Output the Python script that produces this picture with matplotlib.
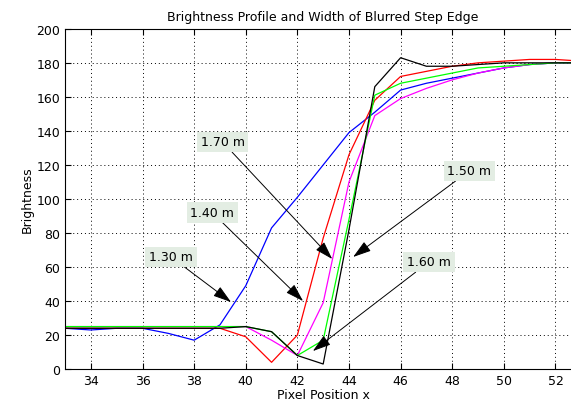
"""Brightness profile of a blurred step edge at several distances."""
import matplotlib
matplotlib.use("Agg")
import matplotlib.pyplot as plt

x = list(range(33, 54))
blue = [24, 23, 24, 24, 21, 17, 26, 49, 83, 101, 120, 139, 151, 164, 168, 171, 174, 177, 179, 180, 180]
red = [24, 24, 24, 24, 24, 24, 24, 19, 4, 20, 77, 126, 158, 172, 175, 178, 180, 181, 182, 182, 181]
magenta = [25, 25, 25, 25, 25, 25, 25, 25, 17, 8, 39, 110, 149, 159, 165, 170, 174, 177, 179, 180, 180]
green = [25, 25, 25, 25, 25, 25, 25, 25, 22, 8, 17, 88, 161, 168, 171, 174, 177, 178, 179, 180, 180]
black = [24, 24, 24, 24, 24, 24, 24, 25, 22, 8, 3, 82, 166, 183, 178, 178, 179, 180, 180, 180, 180]

labels = ["1.30 m", "1.40 m", "1.70 m", "1.50 m", "1.60 m"]
text_xy = [(37.1, 66), (38.7, 92), (39.1, 133.5), (48.66, 116.5), (47.1, 63)]
tip_xy = [(39.43, 39.4), (42.22, 40), (43.35, 64.7), (44.16, 65.9), (42.6, 10.6)]

plt.rcParams["font.family"] = "DejaVu Sans"
fig = plt.figure(figsize=(5.71, 4.14), dpi=100)
ax = fig.add_axes([0.114, 0.106, 0.904, 0.822])

ax.plot(x, blue, color="#0000ff", lw=0.9)
ax.plot(x, red, color="#ff0000", lw=0.9)
ax.plot(x, magenta, color="#ff00ff", lw=0.9)
ax.plot(x, green, color="#00ff00", lw=0.9)
ax.plot(x, black, color="#000000", lw=0.9)

for lab, txy, tip in zip(labels, text_xy, tip_xy):
    ax.annotate(lab, xy=tip, xytext=txy, ha="center", va="center", fontsize=9,
                bbox=dict(boxstyle="square,pad=0.3", fc="#e3ede3", ec="none"),
                arrowprops=dict(arrowstyle="-|>,head_length=0.8,head_width=0.25",
                                color="k", lw=0.7, mutation_scale=14,
                                shrinkA=0, shrinkB=0))

ax.set_xlim(33, 53)
ax.set_ylim(0, 200)
ax.set_xticks(range(34, 54, 2))
ax.set_yticks(range(0, 201, 20))
ax.tick_params(direction="in", top=True, right=True, labelsize=9, length=4)
ax.grid(True, color="k", linestyle=(0, (1, 3)), linewidth=0.7)
ax.set_xlabel("Pixel Position x", fontsize=9, labelpad=1)
ax.set_ylabel("Brightness", fontsize=9, labelpad=2)
ax.set_title("Brightness Profile and Width of Blurred Step Edge", fontsize=9, pad=6)

fig.savefig("out.png", dpi=100)
